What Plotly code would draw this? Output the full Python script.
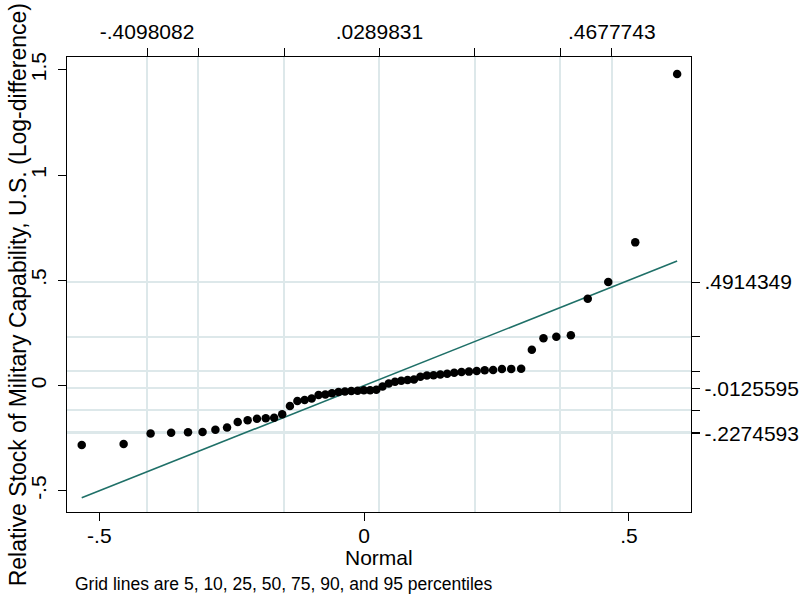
import plotly.graph_objects as go
from statistics import NormalDist

y_values = [
    -0.283, -0.278, -0.2274593, -0.224, -0.222, -0.221, -0.210, -0.200,
    -0.173, -0.165, -0.158, -0.156, -0.153, -0.136, -0.097, -0.074,
    -0.069, -0.062, -0.045, -0.043, -0.037, -0.031, -0.028, -0.026,
    -0.025, -0.023, -0.022, -0.020, -0.005, 0.010, 0.018, 0.023,
    0.026, 0.029, 0.042, 0.048, 0.049, 0.052, 0.056, 0.061,
    0.064, 0.066, 0.069, 0.072, 0.074, 0.078, 0.079, 0.080,
    0.170, 0.225, 0.232, 0.239, 0.412, 0.4914349, 0.680, 1.480,
]

# Top axis: normal quantiles at the grid percentiles (labels from the chart)
grid_pcts = [5, 10, 25, 50, 75, 90, 95]
x_mean = 0.0289831
x_p95 = 0.4677743
x_top_text = ["-.4098082", "", "", ".0289831", "", "", ".4677743"]

# Right axis: data percentiles
y_pct_vals = [-0.2274593, -0.221, -0.1165, -0.0125595, 0.0675, 0.232, 0.4914349]
y_pct_text = ["-.2274593", "", "", "-.0125595", "", "", ".4914349"]

x_tick_vals = [-0.5, 0, 0.5]
x_tick_text = ["-.5", "0", ".5"]
y_tick_vals = [-0.5, 0, 0.5, 1, 1.5]
y_tick_text = ["-.5", "0", ".5", "1", "1.5"]

n = len(y_values)
sd = (x_p95 - x_mean) / NormalDist().inv_cdf(0.95)
nd = NormalDist(x_mean, sd)
x_values = [nd.inv_cdf(i / (n + 1)) for i in range(1, n + 1)]
x_top_vals = [nd.inv_cdf(p / 100) for p in grid_pcts]

FONT = "Liberation Sans, Arial, sans-serif"
GRID = "#dde8ea"
XR = [-0.561, 0.6173]
YR = [-0.6009, 1.5606]

fig = go.Figure()
# invisible trace on primary axes so they render
fig.add_trace(go.Scatter(x=[0], y=[0], mode="markers", marker=dict(opacity=0),
                         showlegend=False, hoverinfo="skip", xaxis="x", yaxis="y"))
fig.add_trace(go.Scatter(x=[x_values[0], x_values[-1]], y=[x_values[0], x_values[-1]],
                         mode="lines", line=dict(color="#1f7068", width=1.6),
                         showlegend=False, xaxis="x2", yaxis="y2"))
fig.add_trace(go.Scatter(x=x_values, y=y_values, mode="markers",
                         marker=dict(color="black", size=8.5, line=dict(width=0)),
                         showlegend=False, xaxis="x2", yaxis="y2"))

def common():
    return dict(showline=True, linecolor="black", linewidth=1.4, ticks="outside",
                ticklen=8, tickwidth=1.4, tickcolor="black", zeroline=False,
                tickfont=dict(family=FONT, size=21, color="black"), tickmode="array")

fig.update_layout(
    width=811, height=600,
    margin=dict(l=67, r=116, t=57, b=88, pad=0),
    paper_bgcolor="white", plot_bgcolor="white",
    xaxis=dict(range=XR, tickvals=x_tick_vals, ticktext=x_tick_text,
               showgrid=False, anchor="y", ticklabelstandoff=-3, **common()),
    xaxis2=dict(range=XR, tickvals=x_top_vals, ticktext=x_top_text,
                overlaying="x", side="top", anchor="y",
                showgrid=True, gridcolor=GRID, gridwidth=1.8, **common()),
    yaxis=dict(range=YR, tickvals=y_tick_vals, ticktext=y_tick_text,
               tickangle=-90, showgrid=False, anchor="x", ticklabelstandoff=3,
               **common()),
    yaxis2=dict(range=YR, tickvals=y_pct_vals, ticktext=y_pct_text,
                overlaying="y", side="right", anchor="x",
                showgrid=True, gridcolor=GRID, gridwidth=1.8, **common()),
    annotations=[
        dict(text="Relative Stock of Military Capability, U.S. (Log-difference)",
             xref="paper", yref="paper", x=-0.078, y=0.477, textangle=-90,
             showarrow=False, xanchor="center", yanchor="middle",
             font=dict(family=FONT, size=23, color="black")),
        dict(text="Normal", xref="paper", yref="paper", x=0.5, y=-0.099,
             showarrow=False, xanchor="center", yanchor="middle",
             font=dict(family=FONT, size=21, color="black")),
        dict(text="Grid lines are 5, 10, 25, 50, 75, 90, and 95 percentiles",
             xref="paper", yref="paper", x=0.0096, y=-0.158,
             showarrow=False, xanchor="left", yanchor="middle",
             font=dict(family=FONT, size=17.5, color="black")),
    ],
)

fig.write_html("out.html")
